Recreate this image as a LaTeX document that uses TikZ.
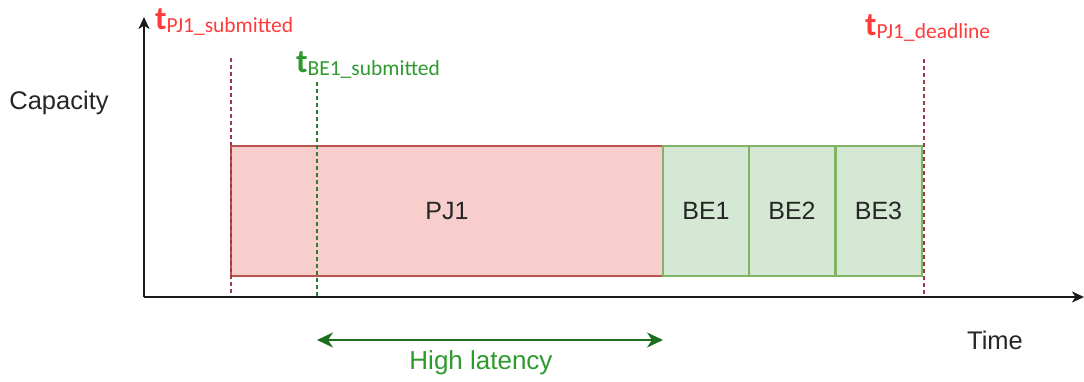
\documentclass[tikz,border=0pt]{standalone}
\usepackage{fontspec}
\setmainfont{Liberation Sans}
\newfontfamily\labelfont{Carlito}
\usetikzlibrary{arrows.meta}

\definecolor{pjfill}{HTML}{F8CECC}
\definecolor{pjline}{HTML}{B85450}
\definecolor{befill}{HTML}{D5E8D4}
\definecolor{beline}{HTML}{82B366}
\definecolor{markred}{HTML}{FF3B3B}
\definecolor{markgreen}{HTML}{2E9A2E}
\definecolor{dashred}{HTML}{9E3A46}
\definecolor{dashgreen}{HTML}{2E7D32}
\definecolor{spangreen}{HTML}{1F6E1F}
\definecolor{axisgray}{HTML}{1A1A1A}

\tikzset{
  plain/.style={font=\fontsize{25.5}{28}\selectfont, text=black!85, inner sep=0pt},
  pjbox/.style={draw=pjline, fill=pjfill, line width=2pt, minimum height=130pt,
    inner sep=0pt, font=\fontsize{25}{28}\selectfont, text=black!85},
  bebox/.style={draw=beline, fill=befill, line width=2pt, minimum height=130pt,
    minimum width=86pt, inner sep=0pt, font=\fontsize{25}{28}\selectfont, text=black!85},
  axisline/.style={draw=axisgray, line width=2.2pt, -{Stealth[length=12pt,width=11pt,inset=3.5pt]}},
  reddash/.style={draw=dashred, line width=2.2pt, dash pattern=on 4pt off 3pt},
  greendash/.style={draw=dashgreen, line width=2.2pt, dash pattern=on 4pt off 3pt},
  tmark/.style={inner sep=0pt, anchor=base west},
  span/.style={draw=spangreen, line width=2.4pt,
    {Stealth[length=16pt,width=15pt,inset=5pt]}-{Stealth[length=16pt,width=15pt,inset=5pt]}},
}

\newcommand{\tlabel}[1]{{\fontsize{33}{36}\selectfont\bfseries t}{\raisebox{-3pt}{\fontsize{21.5}{24}\selectfont #1}}}

\begin{document}
\begin{tikzpicture}[x=1pt, y=-1pt]
  \useasboundingbox (0,0) rectangle (1084,381);

  % axes
  \coordinate (origin) at (144,297);
  \coordinate (ytip) at (144,17);
  \coordinate (xtip) at (1084,297);

  % job blocks
  \node[pjbox, minimum width=432pt] (pj1) at (447,211) {PJ1};
  \node[bebox] (be1) at (706,211) {BE1};
  \node[bebox] (be2) at (792,211) {BE2};
  \node[bebox] (be3) at (878.5,211) {BE3};

  % time markers
  \coordinate (pjsubTop) at (231,58);
  \coordinate (pjsubBot) at (231,297);
  \coordinate (besubTop) at (317,82);
  \coordinate (besubBot) at (317,297);
  \coordinate (deadTop) at (924,59);
  \coordinate (deadBot) at (924,297);

  \draw[reddash] (pjsubTop) -- (pjsubBot);
  \draw[greendash] (besubTop) -- (besubBot);
  \draw[reddash] (deadTop) -- (deadBot);

  \draw[axisline] (origin) -- (ytip);
  \draw[axisline] (origin) -- (xtip);

  \node[tmark, text=markred] (pjsubLbl) at (155,29) {\labelfont\tlabel{PJ1\_submitted}};
  \node[tmark, text=markgreen] (besubLbl) at (296,72) {\labelfont\tlabel{BE1\_submitted}};
  \node[tmark, text=markred] (deadLbl) at (865,35) {\labelfont\tlabel{PJ1\_deadline}};

  % axis titles
  \node[plain] (cap) at (59,103) {Capacity};
  \node[plain] (time) at (995,340) {Time};

  % latency span
  \coordinate (spanL) at (317,340);
  \coordinate (spanR) at (663,340);
  \draw[span] (spanL) -- (spanR);
  \node[plain, text=markgreen, font=\fontsize{26}{28}\selectfont] (lat) at (481,363) {High latency};
\end{tikzpicture}
\end{document}
